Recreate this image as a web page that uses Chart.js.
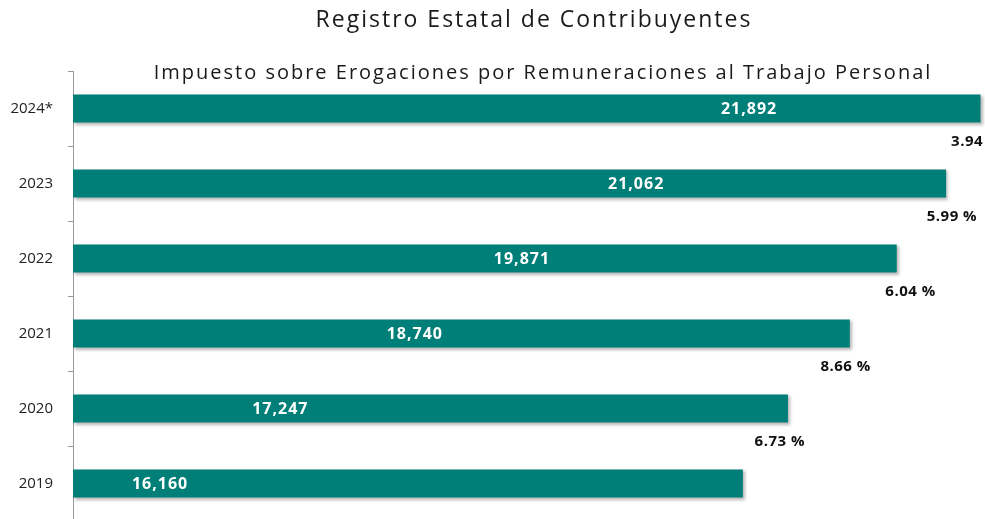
<!DOCTYPE html>
<html>
<head>
<meta charset="utf-8">
<script src="https://cdn.jsdelivr.net/npm/chart.js@4"></script>
<style>
  html, body { margin: 0; padding: 0; background: #fff; overflow: hidden; }
  #wrap { width: 985px; height: 545px; }
</style>
</head>
<body>
<div id="wrap"><canvas id="grafico"></canvas></div>
<script>
// datos
const anios = ["2024*", "2023", "2022", "2021", "2020", "2019"];
const contribuyentes = [21892, 21062, 19871, 18740, 17247, 16160];
const crecimiento = ["3.94 %", "5.99 %", "6.04 %", "8.66 %", "6.73 %"];

const titulo = "Registro Estatal de Contribuyentes";
const subtitulo = "Impuesto sobre Erogaciones por Remuneraciones al Trabajo Personal";

// posicion de la etiqueta dentro de la barra (fraccion del largo)
const posEtiqueta = [0.745, 0.645, 0.545, 0.44, 0.29, 0.13];
// desplazamiento del porcentaje respecto al final de la barra
const despPct = [21, 31, 39, 21, 17];

const fuente = "'Open Sans', 'DejaVu Sans', sans-serif";
const verde = "#007F79";

const sombra = {
    id: "sombra",
    beforeDatasetsDraw(chart) {
        const ctx = chart.ctx;
        ctx.save();
        ctx.shadowColor = "rgba(0,0,0,0.28)";
        ctx.shadowBlur = 3;
        ctx.shadowOffsetX = 2;
        ctx.shadowOffsetY = 2;
    },
    afterDatasetsDraw(chart) {
        chart.ctx.restore();
    }
};

const textos = {
    id: "textos",
    afterDraw(chart) {
        const ctx = chart.ctx;
        const meta = chart.getDatasetMeta(0);
        const x0 = chart.scales.x.getPixelForValue(0);
        ctx.save();

        ctx.fillStyle = "#1a1a1a";
        ctx.textAlign = "center";
        ctx.textBaseline = "middle";
        ctx.letterSpacing = "2px";
        ctx.font = "23px " + fuente;
        ctx.fillText(titulo, 534, 20);
        ctx.font = "20px " + fuente;
        ctx.fillText(subtitulo, 543, 73);

        // valores dentro de las barras
        ctx.letterSpacing = "1px";
        ctx.font = "bold 16px " + fuente;
        ctx.fillStyle = "#ffffff";
        meta.data.forEach((barra, i) => {
            const x = x0 + (barra.x - x0) * posEtiqueta[i];
            ctx.fillText(contribuyentes[i].toLocaleString("en-US"), x, barra.y + 1);
        });

        // crecimiento anual
        ctx.letterSpacing = "0.5px";
        ctx.font = "bold 15px " + fuente;
        ctx.fillStyle = "#111111";
        ctx.textAlign = "right";
        crecimiento.forEach((txt, i) => {
            const barra = meta.data[i];
            const sig = meta.data[i + 1];
            const y = (barra.y + sig.y) / 2 - 4;
            ctx.fillText(txt, barra.x + despPct[i], y);
        });
        ctx.restore();
    }
};

new Chart(document.getElementById("grafico"), {
    type: "bar",
    data: {
        labels: anios,
        datasets: [{
            label: "Contribuyentes",
            data: contribuyentes,
            backgroundColor: verde,
            barPercentage: 0.375,
            categoryPercentage: 1
        }]
    },
    options: {
        indexAxis: "y",
        responsive: true,
        maintainAspectRatio: false,
        animation: false,
        layout: { padding: { top: 71, right: 0, bottom: 0, left: 0 } },
        plugins: {
            legend: { display: false },
            tooltip: { enabled: false }
        },
        scales: {
            x: {
                display: false,
                min: 0,
                max: 22000
            },
            y: {
                afterFit(scale) { scale.width = 73; },
                border: { display: true, color: "#9a9a9a" },
                grid: {
                    drawOnChartArea: false,
                    offset: true,
                    tickLength: 5,
                    color: "#9a9a9a"
                },
                ticks: {
                    color: "#222",
                    padding: 15,
                    font: { family: fuente, size: 15 }
                }
            }
        }
    },
    plugins: [sombra, textos]
});
</script>
</body>
</html>
